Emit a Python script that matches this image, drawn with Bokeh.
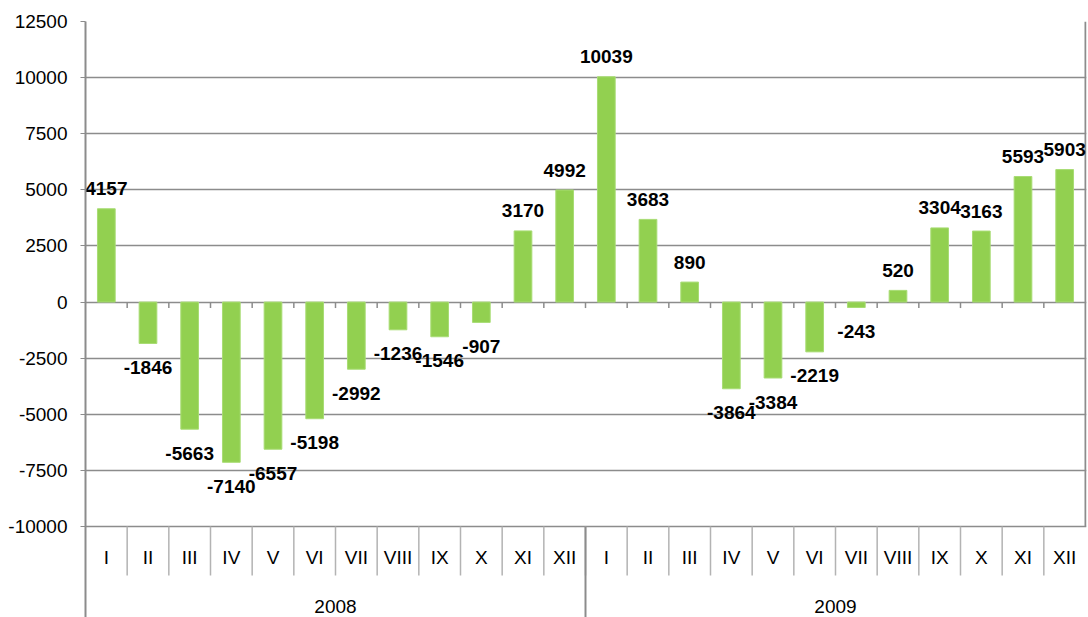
from bokeh.plotting import figure
from bokeh.models import Range1d, FixedTicker, ColumnDataSource, CustomJSTickFormatter
from bokeh.core.properties import value
from bokeh.embed import file_html
from bokeh.resources import INLINE

# ---- data ----
months = ["I", "II", "III", "IV", "V", "VI", "VII", "VIII", "IX", "X", "XI", "XII"]
years = ["2008", "2009"]
values_2008 = [4157, -1846, -5663, -7140, -6557, -5198, -2992, -1236, -1546, -907, 3170, 4992]
values_2009 = [10039, 3683, 890, -3864, -3384, -2219, -243, 520, 3304, 3163, 5593, 5903]
y_ticks = [-10000, -7500, -5000, -2500, 0, 2500, 5000, 7500, 10000, 12500]

# ---- layout constants ----
W, H = 1088, 617
LEFT, RIGHT, TOP, BOTTOM = 85, 2, 21, 0
ymin_axis, ymax_axis = y_ticks[0], y_ticks[-1]
plot_px = 505.0                      # pixels from -10000 to 12500
upp = (ymax_axis - ymin_axis) / plot_px   # data units per pixel
frame_h = H - TOP - BOTTOM
y_bottom = ymax_axis - frame_h * upp
n = len(months) * len(years)
frame_w = W - LEFT - RIGHT
x_end = frame_w / (1000.0 / n)

FONT = "Liberation Sans"
FS = "19px"
GRID = "#8c8c8c"
SEP = "#b3b3b3"

p = figure(width=W, height=H, output_backend="svg", toolbar_location=None,
           x_range=Range1d(0, x_end), y_range=Range1d(y_bottom, ymax_axis),
           x_axis_location=None, min_border_left=LEFT, min_border_right=RIGHT,
           min_border_top=TOP, min_border_bottom=BOTTOM,
           background_fill_color="white", border_fill_color="white")
p.outline_line_color = None
p.xgrid.visible = False

# y axis
ax = p.yaxis[0]
ax.ticker = FixedTicker(ticks=y_ticks)
ax.formatter = CustomJSTickFormatter(code="return String(tick);")
ax.axis_line_color = GRID
ax.axis_line_width = 2
ax.major_tick_line_color = GRID
ax.major_tick_line_width = 1
ax.major_tick_out = 5
ax.major_tick_in = 0
ax.minor_tick_line_color = None
ax.major_label_text_font = FONT
ax.major_label_text_font_size = FS
ax.major_label_text_color = "#000000"
ax.major_label_standoff = 13
p.ygrid.ticker = FixedTicker(ticks=y_ticks)
p.ygrid.grid_line_color = GRID
p.ygrid.grid_line_width = 1.5

# data source
all_vals = values_2008 + values_2009
labels = months + months
xs = [i + 0.5 for i in range(n)]
src = ColumnDataSource(dict(x=xs, top=all_vals))

# right border
p.segment(x0=[n], y0=[ymin_axis], x1=[n], y1=[ymax_axis], line_color=GRID, line_width=2)

# bars
p.vbar(x="x", top="top", bottom=0, width=0.425, source=src,
       fill_color="#92D050", line_color="#a8dc74", line_width=1)

# small ticks below zero line at category boundaries
b = list(range(1, n))
p.segment(x0=b, y0=[0] * len(b), x1=b, y1=[-6 * upp] * len(b), line_color=GRID, line_width=1.5)

# value labels
pos = [i for i, v in enumerate(all_vals) if v >= 0]
neg = [i for i, v in enumerate(all_vals) if v < 0]
for idx, off in ((pos, -20), (neg, 24)):
    p.text(x=[xs[i] for i in idx], y=[all_vals[i] for i in idx],
           text=[str(all_vals[i]) for i in idx], text_align="center",
           text_baseline="middle", y_offset=off, text_font=value(FONT),
           text_font_style="bold", text_font_size=FS, text_color="#000000")

# category axis (two levels)
month_sep_bottom = ymin_axis - 49 * upp
p.segment(x0=b, y0=[ymin_axis] * len(b), x1=b, y1=[month_sep_bottom] * len(b),
          line_color=SEP, line_width=1.5)
p.segment(x0=[len(months)], y0=[ymin_axis], x1=[len(months)], y1=[y_bottom],
          line_color=GRID, line_width=2)
p.text(x=xs, y=[ymin_axis - 31 * upp] * n, text=labels, text_align="center",
       text_baseline="middle", text_font=value(FONT), text_font_size=FS,
       text_color="#000000")
p.text(x=[len(months) * (k + 0.5) for k in range(len(years))],
       y=[ymin_axis - 80 * upp] * len(years), text=years, text_align="center",
       text_baseline="middle", text_font=value(FONT), text_font_size=FS,
       text_color="#000000")

open("out.html", "w").write(file_html(p, INLINE))
